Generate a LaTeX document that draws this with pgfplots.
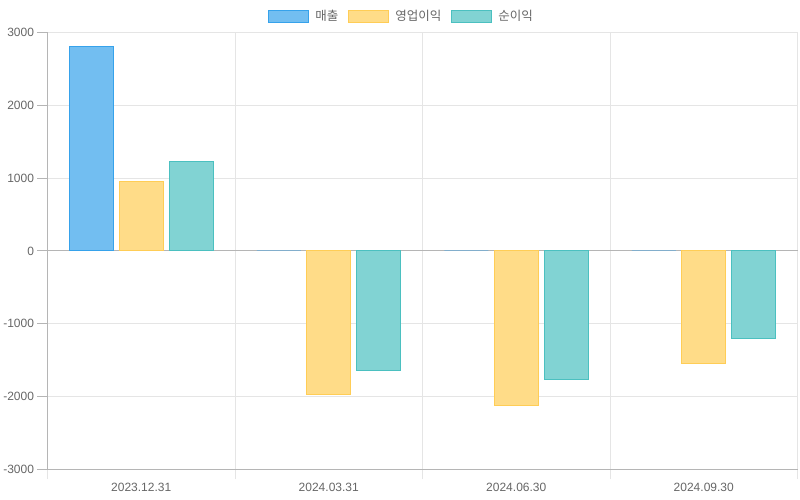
\documentclass[border=0pt]{standalone}
\usepackage{pgfplots}
\pgfplotsset{compat=1.18}
\usepackage{fontspec}
\setmainfont{Liberation Sans}
\newfontfamily\kr{Noto Sans CJK KR}

\definecolor{textgray}{HTML}{666666}
\definecolor{gridgray}{HTML}{E5E5E5}
\definecolor{axisgray}{HTML}{B5B5B5}
\definecolor{cblue}{RGB}{54,162,235}
\definecolor{cbluefill}{RGB}{114,190,241}
\definecolor{cyel}{RGB}{255,205,86}
\definecolor{cyelfill}{RGB}{255,220,136}
\definecolor{cteal}{RGB}{75,192,192}
\definecolor{ctealfill}{RGB}{129,211,211}

\begin{document}
\begin{tikzpicture}[x=1bp,y=1bp]
\path[use as bounding box] (0,0) rectangle (800,500);
\begin{axis}[
  at={(47.5bp,30.5bp)}, anchor=south west,
  scale only axis, width=750bp, height=437bp,
  xmin=-0.5, xmax=3.5, ymin=-3000, ymax=3000,
  ybar=6bp, bar width=44bp,
  axis lines=left, axis line style={axisgray, line width=1bp, -},
  xtick={0,1,2,3},
  xticklabels={2023.12.31,2024.03.31,2024.06.30,2024.09.30},
  minor xtick={-0.5,0.5,1.5,2.5,3.5},
  ytick={-3000,-2000,...,3000},
  extra y ticks={0}, extra y tick labels={},
  extra y tick style={grid style={axisgray, line width=1bp}},
  ymajorgrids, xminorgrids,
  grid style={gridgray, line width=1bp},
  minor grid style={gridgray, line width=1bp},
  tick align=outside,
  major tick length=10bp, minor tick length=10bp,
  major x tick style={draw=none},
  minor x tick style={gridgray, line width=1bp},
  major y tick style={axisgray, line width=1bp},
  tick label style={font=\fontsize{12bp}{14bp}\selectfont, text=textgray},
  /pgf/number format/assume math mode=true,
  /pgf/number format/1000 sep={},
  legend style={at={(0.5,1)}, anchor=center, xshift=-22bp, yshift=16bp, draw=none, fill=none,
    font=\kr\fontsize{12.5bp}{14bp}\selectfont, text=textgray,
    nodes={inner sep=0pt},
    /tikz/every odd column/.append style={column sep=6bp},
    /tikz/every even column/.append style={column sep=10bp}},
  legend columns=-1,
  legend image code/.code={\draw[#1, line width=1bp] (0bp,-6bp) rectangle (40bp,6bp);},
]
\addplot[fill=cbluefill, draw=cblue, line width=1bp] coordinates {(0,2810) (1,0) (2,0) (3,0)};
\addplot[fill=cyelfill, draw=cyel, line width=1bp] coordinates {(0,960) (1,-1975) (2,-2125) (3,-1550)};
\addplot[fill=ctealfill, draw=cteal, line width=1bp] coordinates {(0,1235) (1,-1645) (2,-1770) (3,-1205)};
\legend{매출,영업이익,순이익}
\end{axis}
\end{tikzpicture}
\end{document}
